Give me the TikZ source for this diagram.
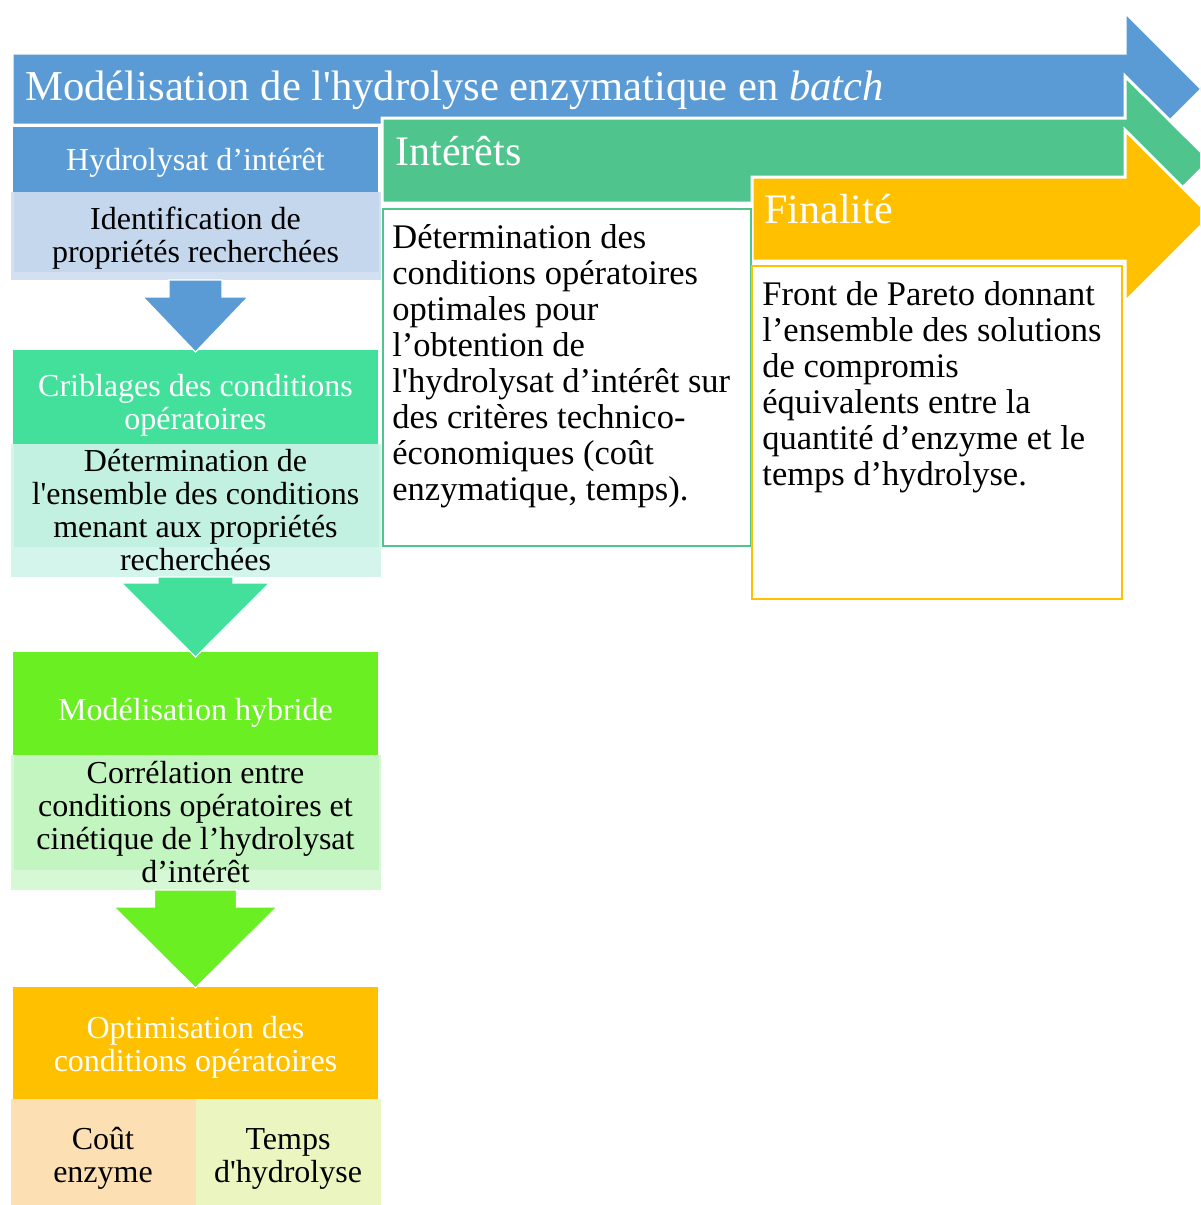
\documentclass[tikz,border=0pt]{standalone}
\usepackage{fontspec}
\setmainfont{Liberation Serif}[Ligatures=TeXOff]
\usetikzlibrary{positioning}

\definecolor{blueA}{HTML}{5B9BD5}
\definecolor{blueL}{HTML}{C5D7EC}
\definecolor{blueLL}{HTML}{D3E0F1}
\definecolor{greenA}{HTML}{4FC48D}
\definecolor{greenB}{HTML}{43E09C}
\definecolor{greenBL}{HTML}{C2F0E1}
\definecolor{greenBLL}{HTML}{D4F5EC}
\definecolor{greenC}{HTML}{6AEF23}
\definecolor{greenCL}{HTML}{C3F5C0}
\definecolor{greenCLL}{HTML}{D7F8D4}
\definecolor{orangeA}{HTML}{FFC000}
\definecolor{peach}{HTML}{FDDFB4}
\definecolor{lime}{HTML}{EBF5C0}

\begin{document}
\begin{tikzpicture}[x=0.5pt, y=-0.5pt,
        hdr/.style={rectangle, inner sep=0pt, outer sep=0pt, align=center, text=white,
            font=\fontsize{16}{16.5}\selectfont, minimum width=182.5pt},
        body/.style n args={3}{rectangle, inner sep=0pt, outer sep=0pt, align=center,
            font=\fontsize{16}{16.5}\selectfont, minimum width=185pt, fill=#2,
            path picture={\fill[#1] ([xshift=1.5pt]path picture bounding box.north west)
                rectangle ([xshift=-1pt,yshift=#3]path picture bounding box.south east);}},
        cell/.style={rectangle, inner sep=0pt, outer sep=0pt, align=center,
            font=\fontsize{16}{16.5}\selectfont, minimum width=92.5pt, minimum height=53pt,
            text height=30pt, text depth=0pt},
        bigarrow/.style={draw=white, line width=1.5pt},
        bigtitle/.style={inner sep=0pt, text=white, font=\fontsize{21}{24}\selectfont},
        darr/.style={draw=white, line width=0.6pt},
        outbox/.style={rectangle, inner sep=0pt, line width=1pt, fill=white},
        para/.style={inner sep=0pt, align=left, font=\fontsize{17.25}{18}\selectfont}
    ]
    \clip (0,0) rectangle (1200,1205);

    % large arrows across the top
    \filldraw[bigarrow, fill=blueA] (12,53) -- (1125,53) -- (1125,12) -- (1202,89)
        -- (1125,166) -- (1125,125) -- (12,125) -- cycle;
    \filldraw[bigarrow, fill=greenA] (382,118) -- (1125,118) -- (1125,76) -- (1210,160.5)
        -- (1125,245) -- (1125,203) -- (382,203) -- cycle;
    \filldraw[bigarrow, fill=orangeA] (752,177) -- (1125,177) -- (1125,130) -- (1211,216)
        -- (1125,302) -- (1125,261) -- (752,261) -- cycle;
    \node[bigtitle, font=\fontsize{21.3}{24}\selectfont, anchor=base west] (titre) at (25,100)
        {Modélisation de l'hydrolyse enzymatique en \textit{batch}};
    \node[bigtitle, anchor=base west] (interets) at (395,165) {Intérêts};
    \node[bigtitle, anchor=base west] (finalite) at (764,223) {Finalité};

    % text boxes
    \node[outbox, draw=greenA, minimum width=184pt, minimum height=168.5pt, anchor=north west]
        (intbox) at (382,208) {};
    \node[outbox, draw=orangeA, minimum width=185pt, minimum height=166.5pt, anchor=north west]
        (finbox) at (751,265) {};
    \node[para, anchor=north west] (inttxt) at ([xshift=5pt,yshift=-8pt]intbox.north west)
        {Détermination des\\conditions opératoires\\optimales pour\\l’obtention de\\l'hydrolysat d’intérêt sur\\des critères technico-\\économiques (coût\\enzymatique, temps).};
    \node[para, anchor=north west] (fintxt) at ([xshift=5.5pt,yshift=-8pt]finbox.north west)
        {Front de Pareto donnant\\l’ensemble des solutions\\de compromis\\équivalents entre la\\quantité d’enzyme et le\\temps d’hydrolyse.};

    % left column
    \node[hdr, fill=blueA, minimum height=32.5pt, text depth=0.5pt] (hyd) at (195.5,159.5)
        {Hydrolysat d’intérêt};
    \node[body={blueL}{blueLL}{4pt}, minimum height=44pt, text depth=1.5pt, below=0pt of hyd] (hydb)
        {Identification de\\propriétés recherchées};
    \node[hdr, fill=greenB, minimum height=47pt, text height=32.4pt, text depth=0pt,
        below=35pt of hydb] (crib) {Criblages des conditions\\opératoires};
    \node[body={greenBL}{greenBLL}{15pt}, minimum height=66.5pt, below=0pt of crib] (cribb)
        {Détermination de\\l'ensemble des conditions\\menant aux propriétés\\recherchées};
    \node[hdr, fill=greenC, minimum height=51.5pt, text height=16.9pt, text depth=0pt,
        below=37.5pt of cribb] (hyb) {Modélisation hybride};
    \node[body={greenCL}{greenCLL}{10pt}, minimum height=67.5pt, below=0pt of hyb] (hybb)
        {Corrélation entre\\conditions opératoires et\\cinétique de l’hydrolysat\\d’intérêt};
    \node[hdr, fill=orangeA, minimum height=56pt, text height=28.4pt, text depth=0pt,
        below=48.5pt of hybb] (opt) {Optimisation des\\conditions opératoires};
    \node[cell, fill=peach, anchor=north east] (cout) at (opt.south) {Coût\\enzyme};
    \node[cell, fill=lime, anchor=north west] (temps) at (opt.south) {Temps\\d'hydrolyse};

    % down arrows between the steps
    \filldraw[darr, fill=blueA] ([xshift=-13.25pt]hydb.south)
        |- ([xshift=-26.25pt,yshift=26.5pt]crib.north) -- ([yshift=-1pt]crib.north)
        -- ([xshift=26.25pt,yshift=26.5pt]crib.north) -| ([xshift=13.25pt]hydb.south) -- cycle;
    \filldraw[darr, fill=greenB] ([xshift=-18.75pt]cribb.south)
        |- ([xshift=-37pt,yshift=34.5pt]hyb.north) -- ([yshift=-2.5pt]hyb.north)
        -- ([xshift=37pt,yshift=34.5pt]hyb.north) -| ([xshift=18.75pt]cribb.south) -- cycle;
    \filldraw[darr, fill=greenC] ([xshift=-20.5pt]hybb.south)
        |- ([xshift=-40.75pt,yshift=40pt]opt.north) -- ([yshift=-0.5pt]opt.north)
        -- ([xshift=40.75pt,yshift=40pt]opt.north) -| ([xshift=20.5pt]hybb.south) -- cycle;
\end{tikzpicture}
\end{document}
